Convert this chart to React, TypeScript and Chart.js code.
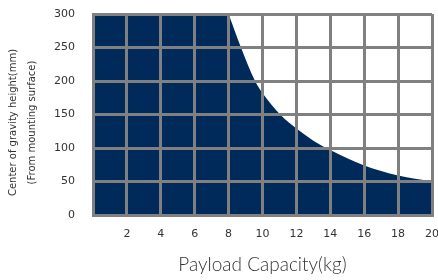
import React, { useEffect, useRef } from "react";
import { Chart, registerables } from "chart.js";

Chart.register(...registerables);

const flatKg = [0, 8];
const flatMm = [300, 300];
const curveKg = [8, 8.73, 9.56, 10, 11.04, 12, 13, 14, 16, 18, 20];
const curveMm = [300, 250, 200, 182, 150, 129, 111, 97, 74, 59, 50];
const xTickValues = [2, 4, 6, 8, 10, 12, 14, 16, 18, 20];
const yTickValues = [0, 50, 100, 150, 200, 250, 300];
const yTitleLines = ["Center of gravity height(mm)", "(From mounting surface)"];
const xTitle = "Payload Capacity(kg)";

const FILL = "#002a5a";
const GRID = "#808080";

const yTitlePlugin = {
  id: "yTitle",
  afterDraw(chart: any) {
    const ctx = chart.ctx;
    const area = chart.chartArea;
    ctx.save();
    ctx.fillStyle = "#333";
    ctx.font = "10px 'DejaVu Sans'";
    ctx.textAlign = "center";
    ctx.textBaseline = "middle";
    const cy = (area.top + area.bottom) / 2 + 8;
    const xs = [13, 32];
    yTitleLines.forEach((line, i) => {
      ctx.save();
      ctx.translate(xs[i], cy);
      ctx.rotate(-Math.PI / 2);
      ctx.fillText(line, 0, 0);
      ctx.restore();
    });
    ctx.restore();
  },
};

export default function App() {
  const ref = useRef<HTMLCanvasElement | null>(null);
  useEffect(() => {
    if (!ref.current) return;
    const common = {
      fill: "origin",
      backgroundColor: FILL,
      borderColor: FILL,
      borderWidth: 0,
      pointRadius: 0,
      cubicInterpolationMode: "monotone",
    };
    const chart = new Chart(ref.current, {
      type: "line",
      data: {
        datasets: [
          { ...common, data: flatKg.map((x, i) => ({ x, y: flatMm[i] })) },
          { ...common, data: curveKg.map((x, i) => ({ x, y: curveMm[i] })) },
        ],
      },
      plugins: [yTitlePlugin],
      options: {
        animation: false,
        responsive: false,
        layout: { padding: { top: 14, right: 6, left: 0, bottom: 0 } },
        plugins: { legend: { display: false }, tooltip: { enabled: false } },
        scales: {
          x: {
            type: "linear",
            min: 0,
            max: 20,
            afterBuildTicks: (s: any) => {
              s.ticks = [0, ...xTickValues].map((v) => ({ value: v }));
            },
            afterFit: (s: any) => {
              s.height = 65;
              s.paddingLeft = 0;
              s.paddingRight = 0;
            },
            ticks: {
              callback: (v: any) => (v === 0 ? "" : String(v)),
              color: "#333",
              font: { family: "DejaVu Sans", size: 11 },
              padding: 13,
              maxRotation: 0,
            },
            grid: { color: GRID, lineWidth: 3, drawTicks: false, z: 1 },
            border: { display: true, color: GRID, width: 3, z: 1 },
            title: {
              display: true,
              text: xTitle,
              color: "#333",
              font: { family: "Lato", size: 19, weight: "300" },
              padding: { top: 0, bottom: 4 },
            },
          },
          y: {
            min: 0,
            max: 300,
            afterBuildTicks: (s: any) => {
              s.ticks = yTickValues.map((v) => ({ value: v }));
            },
            afterFit: (s: any) => {
              s.width = 93;
              s.paddingTop = 0;
              s.paddingBottom = 0;
            },
            ticks: {
              color: "#333",
              font: { family: "DejaVu Sans", size: 11 },
              padding: 18,
            },
            grid: { color: GRID, lineWidth: 3, drawTicks: false, z: 1 },
            border: { display: true, color: GRID, width: 3, z: 1 },
          },
        },
      },
    });
    return () => chart.destroy();
  }, []);
  return (
    <div style={{ position: "absolute", left: 0, top: 0, width: 438, height: 280, background: "#fff" }}>
      <canvas ref={ref} width={438} height={280} />
    </div>
  );
}
